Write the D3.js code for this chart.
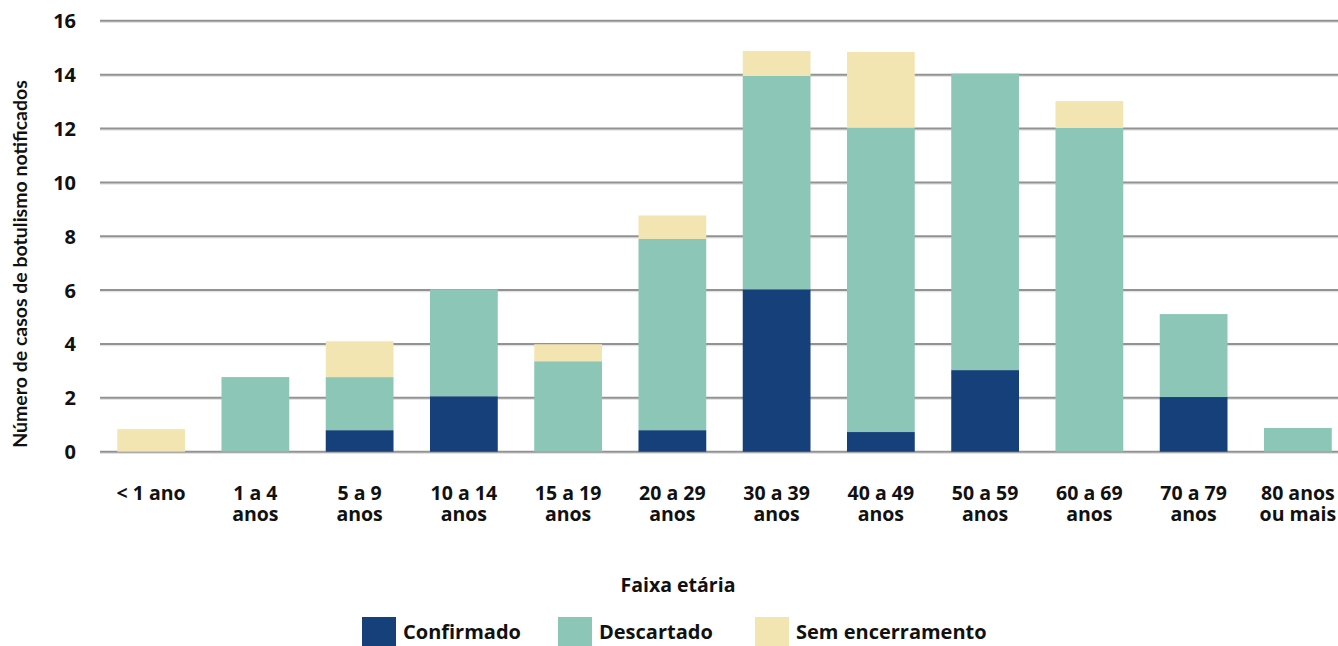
<!DOCTYPE html>
<html><head><meta charset="utf-8">
<script src="https://cdn.jsdelivr.net/npm/d3@7"></script>
<style>body{margin:0;background:#fff}svg{display:block;font-family:"Open Sans",Lato,sans-serif;font-weight:bold}</style>
</head><body><svg id="c" width="1338" height="646"></svg>
<script>
const categories = [["< 1 ano"],["1 a 4","anos"],["5 a 9","anos"],["10 a 14","anos"],["15 a 19","anos"],["20 a 29","anos"],["30 a 39","anos"],["40 a 49","anos"],["50 a 59","anos"],["60 a 69","anos"],["70 a 79","anos"],["80 anos","ou mais"]];
const confirmado = [0, 0, 0.8, 2.06, 0, 0.8, 6.03, 0.73, 3.03, 0, 2.03, 0];
const descartado = [0, 2.77, 1.97, 3.97, 3.36, 7.1, 7.92, 11.3, 11.01, 12.02, 3.08, 0.88];
const semEncerramento = [0.84, 0, 1.33, 0, 0.63, 0.87, 0.93, 2.81, 0, 1.0, 0, 0];
const seriesNames = ["Confirmado","Descartado","Sem encerramento"];
const colors = ["#15407a","#8bc6b6","#f3e5b2"];
const yTicks = [0,2,4,6,8,10,12,14,16];

const svg = d3.select("#c");
const x = d3.scaleBand().domain(d3.range(categories.length)).range([99,1350]).paddingInner(0.35).paddingOuter(0.175);
const y = d3.scaleLinear().domain([0,16]).range([451.7,20.8]);

// gridlines
const grid = svg.append("g");
yTicks.forEach(t=>{
  grid.append("line").attr("x1",100).attr("x2",1338).attr("y1",y(t)+1.5).attr("y2",y(t)+1.5).attr("stroke","#e3e3e3").attr("stroke-width",1.5);
  grid.append("line").attr("x1",100).attr("x2",1338).attr("y1",y(t)).attr("y2",y(t)).attr("stroke","#929292").attr("stroke-width",2);
});

const rows = categories.map((c,i)=>({i, Confirmado:confirmado[i], Descartado:descartado[i], "Sem encerramento":semEncerramento[i]}));
const stack = d3.stack().keys(seriesNames)(rows);
svg.append("g").selectAll("g").data(stack).join("g").attr("fill",(d,k)=>colors[k])
  .selectAll("rect").data(d=>d).join("rect")
  .attr("x",d=>x(d.data.i)).attr("width",x.bandwidth())
  .attr("y",d=>y(d[1])).attr("height",d=>Math.max(0,y(d[0])-y(d[1])));

// y axis labels
const yAxis = d3.axisLeft(y).tickValues(yTicks).tickSize(0).tickPadding(0);
const ya = svg.append("g").attr("transform","translate(76,0)").call(yAxis);
ya.select(".domain").remove();
ya.selectAll("text").attr("font-size",20).attr("font-family","Open Sans").attr("font-weight","bold").attr("fill","#111").attr("dy","0.35em");

// x labels
const xl = svg.append("g");
categories.forEach((lines,i)=>{
  lines.forEach((l,j)=>xl.append("text").attr("x",x(i)+x.bandwidth()/2).attr("y",500+j*21).attr("text-anchor","middle").attr("font-size",19.5).attr("fill","#111").text(l));
});

svg.append("text").attr("x",678).attr("y",592).attr("text-anchor","middle").attr("font-size",19.5).attr("fill","#111").text("Faixa etária");
svg.append("text").attr("transform","translate(27,264) rotate(-90)").attr("text-anchor","middle").attr("font-family","Lato").attr("font-size",19.5).attr("fill","#111").text("Número de casos de botulismo notificados");

// legend
const legX = [362,558,755];
seriesNames.forEach((n,k)=>{
  svg.append("rect").attr("x",legX[k]).attr("y",617).attr("width",34).attr("height",29).attr("fill",colors[k]);
  svg.append("text").attr("x",legX[k]+41).attr("y",639).attr("font-size",20).attr("fill","#111").text(n);
});
</script></body></html>
